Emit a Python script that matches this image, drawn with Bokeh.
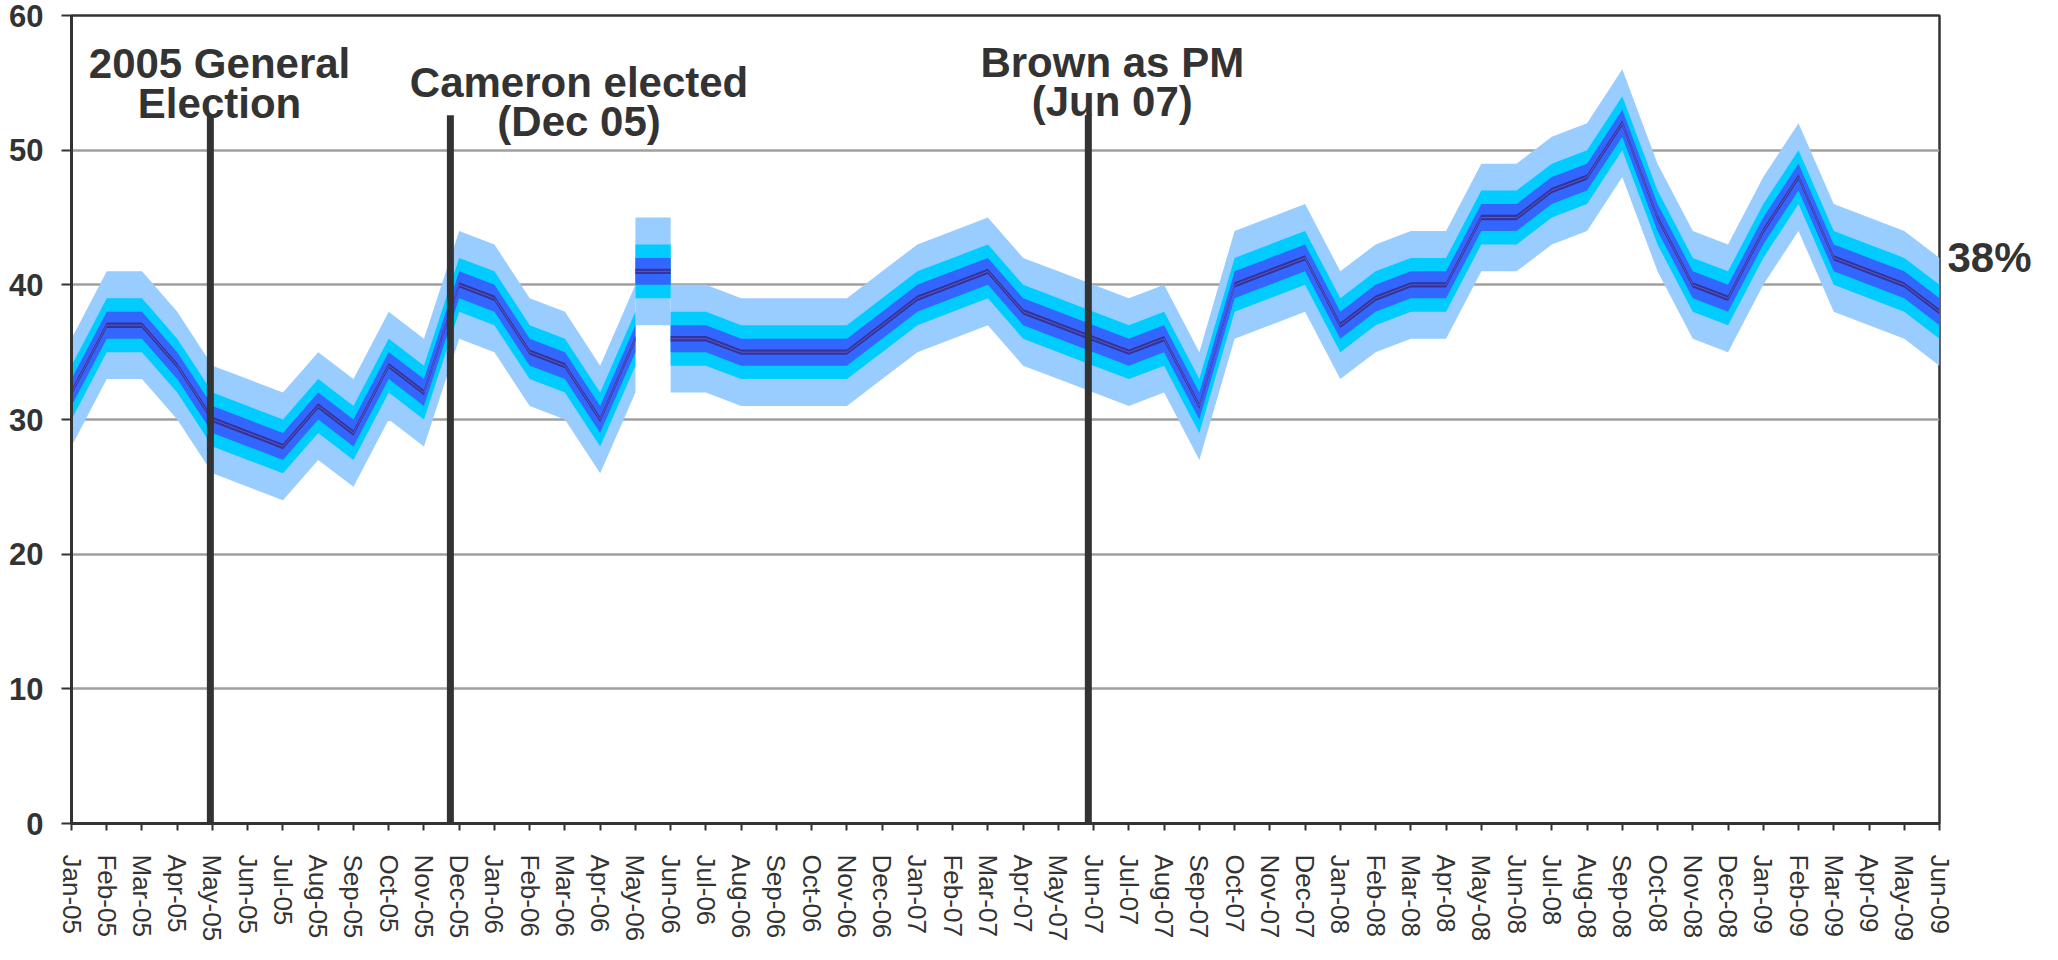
import math
from bokeh.plotting import figure
from bokeh.models import ColumnDataSource, Range1d, FixedTicker, LinearAxis
from bokeh.core.properties import value
from bokeh.embed import file_html
from bokeh.resources import INLINE

# ---------------- data ----------------
months = ["Jan-05", "Feb-05", "Mar-05", "Apr-05", "May-05", "Jun-05", "Jul-05", "Aug-05",
          "Sep-05", "Oct-05", "Nov-05", "Dec-05",
          "Jan-06", "Feb-06", "Mar-06", "Apr-06", "May-06", "Jun-06", "Jul-06", "Aug-06",
          "Sep-06", "Oct-06", "Nov-06", "Dec-06",
          "Jan-07", "Feb-07", "Mar-07", "Apr-07", "May-07", "Jun-07", "Jul-07", "Aug-07",
          "Sep-07", "Oct-07", "Nov-07", "Dec-07",
          "Jan-08", "Feb-08", "Mar-08", "Apr-08", "May-08", "Jun-08", "Jul-08", "Aug-08",
          "Sep-08", "Oct-08", "Nov-08", "Dec-08",
          "Jan-09", "Feb-09", "Mar-09", "Apr-09", "May-09", "Jun-09"]

centre = [32, 37, 37, 34, 30, 29, 28, 31, 29, 34, 32, 40,
          39, 35, 34, 30, 36, 36, 36, 35, 35, 35, 35, 37,
          39, 40, 41, 38, 37, 36, 35, 36, 31, 40, 41, 42,
          37, 39, 40, 40, 45, 45, 47, 48, 52, 45, 40, 39,
          44, 48, 42, 41, 40, 38]

# isolated reading between May-06 and Jun-06 (series broken around it)
block_from = "May-06"
block_to = "Jun-06"
block_value = 41

# half widths of the uncertainty bands (outer to inner)
band_half_widths = [4, 2, 1, 0.2]
band_colors = ["#99CCFF", "#00CCFF", "#3366FF", "#333399"]

# events (position on the month index scale)
event_months = [3.94, 10.75, 28.85]
event_texts = [["2005 General", "Election"],
               ["Cameron elected", "(Dec 05)"],
               ["Brown as PM", "(Jun 07)"]]

# ---------------- layout (styles / positions) ----------------
event_top = 52.6
label_x = [4.2, 14.4, 29.53]
label_y = [[56.4, 53.45], [55.0, 52.1], [56.48, 53.58]]

TXT = "#333333"
FONT = "Liberation Sans"

p = figure(width=2042, height=944, output_backend="svg", toolbar_location=None,
           x_range=Range1d(0, len(months) - 1), y_range=Range1d(0, 60),
           min_border_left=71, min_border_right=103, min_border_top=15, min_border_bottom=117)
p.background_fill_color = "white"
p.border_fill_color = "white"
p.outline_line_color = "#333333"
p.outline_line_width = 2.5

idx = list(range(len(months)))
i_from = months.index(block_from)
i_to = months.index(block_to)

segments = [
    (idx[:i_from + 1], centre[:i_from + 1]),
    ([i_from, i_to], [block_value, block_value]),
    (idx[i_to:], centre[i_to:]),
]

for w, col in zip(band_half_widths, band_colors):
    for xs, cs in segments:
        src = ColumnDataSource(dict(x=xs, lo=[c - w for c in cs], hi=[c + w for c in cs]))
        p.varea(x="x", y1="lo", y2="hi", source=src, fill_color=col, fill_alpha=1.0)

for xs, cs in segments:
    p.line(xs, cs, line_color="#5a5ac8", line_width=1)

# event lines
p.segment(x0=event_months, y0=[0] * len(event_months), x1=event_months,
          y1=[event_top] * len(event_months), line_color="#333333", line_width=7,
          line_cap="butt")

tx, ty, tt = [], [], []
for lines, lx, lys in zip(event_texts, label_x, label_y):
    for line, ly in zip(lines, lys):
        tx.append(lx)
        ty.append(ly)
        tt.append(line)
p.text(x=tx, y=ty, text=tt, text_font=value(FONT), text_font_style="bold",
       text_font_size="42px", text_color=TXT, text_align="center",
       text_baseline="alphabetic")

# axes
xa = p.xaxis[0]
xa.ticker = FixedTicker(ticks=idx)
xa.major_label_overrides = {i: m for i, m in zip(idx, months)}
xa.major_label_orientation = -math.pi / 2
xa.major_label_text_font = FONT
xa.major_label_text_font_size = "26px"
xa.major_label_text_color = TXT
xa.major_label_standoff = 24
xa.axis_line_color = "#333333"
xa.axis_line_width = 3
xa.major_tick_line_color = "#333333"
xa.major_tick_line_width = 2
xa.major_tick_out = 7
xa.major_tick_in = 0
xa.minor_tick_line_color = None

ya = p.yaxis[0]
ya.ticker = FixedTicker(ticks=[0, 10, 20, 30, 40, 50, 60])
ya.major_label_text_font = FONT
ya.major_label_text_font_style = "bold"
ya.major_label_text_font_size = "31px"
ya.major_label_text_color = TXT
ya.major_label_standoff = 18
ya.axis_line_color = "#333333"
ya.axis_line_width = 3
ya.major_tick_line_color = "#333333"
ya.major_tick_line_width = 2
ya.major_tick_out = 10
ya.major_tick_in = 0
ya.minor_tick_line_color = None

# end-of-series label, placed at the top of the outer band of the last month
end_pos = centre[-1] + band_half_widths[0]
ra = LinearAxis(ticker=FixedTicker(ticks=[end_pos]),
                major_label_overrides={end_pos: f"{centre[-1]}%"})
ra.axis_line_color = None
ra.major_tick_line_color = None
ra.minor_tick_line_color = None
ra.major_tick_out = 0
ra.major_tick_in = 0
ra.major_label_standoff = 8
ra.major_label_text_font = FONT
ra.major_label_text_font_style = "bold"
ra.major_label_text_font_size = "42px"
ra.major_label_text_color = TXT
p.add_layout(ra, "right")

p.xgrid.grid_line_color = None
p.ygrid.grid_line_color = "#a0a0a0"
p.ygrid.grid_line_width = 2.5

open("out.html", "w").write(file_html(p, INLINE))
